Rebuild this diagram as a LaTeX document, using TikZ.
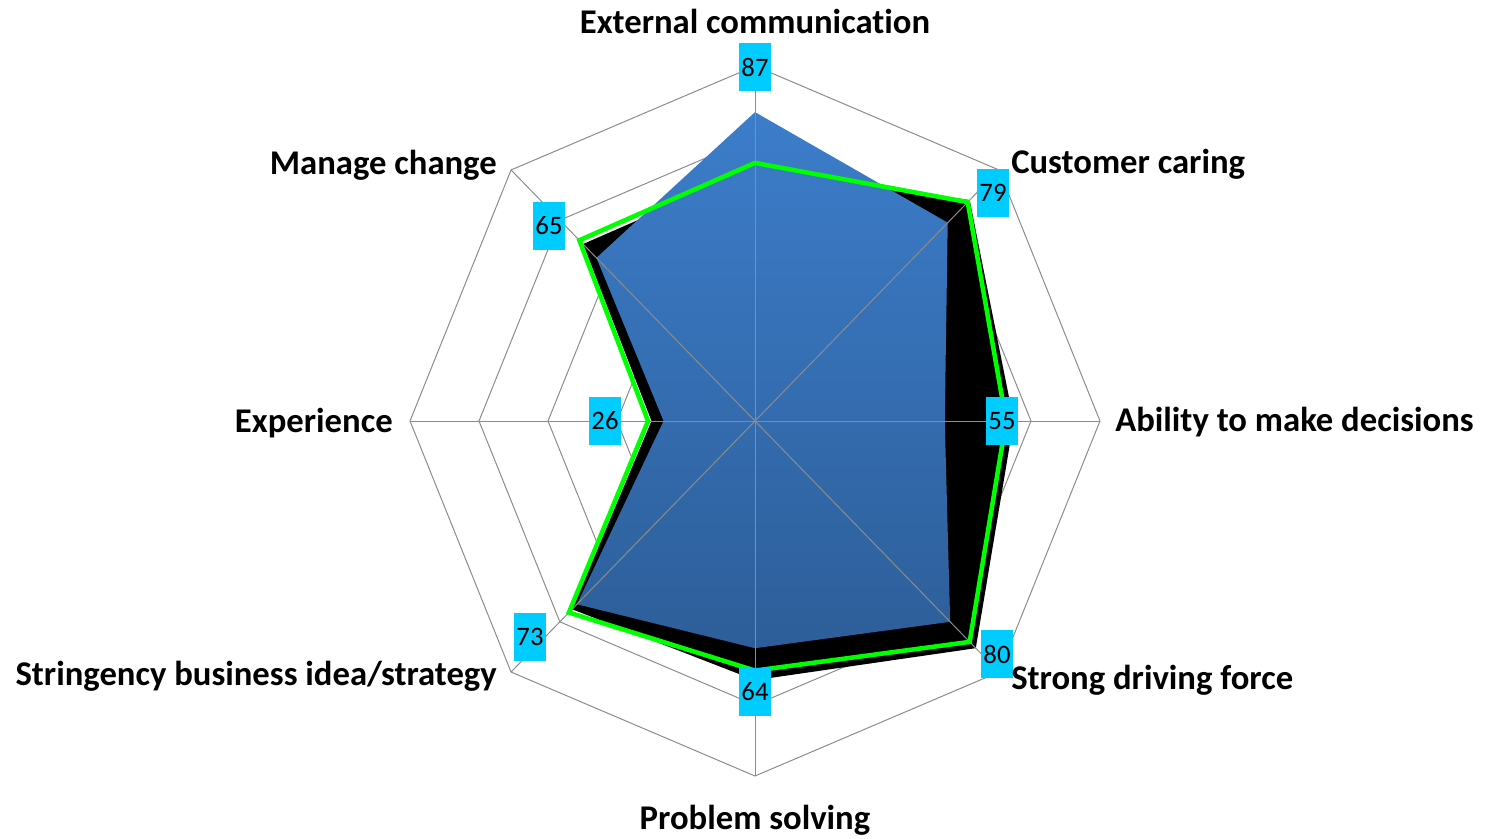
\documentclass[tikz,border=0pt]{standalone}
\usepackage{fontspec}
\setmainfont{Carlito}[Ligatures=NoCommon]
\usetikzlibrary{positioning}
\definecolor{gridgray}{HTML}{8C8C8C}
\definecolor{bluetop}{HTML}{3C7DCA}
\definecolor{bluebot}{HTML}{2D5E99}
\definecolor{boxcyan}{HTML}{00CCFF}
\definecolor{linegreen}{HTML}{00FF00}

\begin{document}
\begin{tikzpicture}[x=0.75pt, y=-0.75pt,
        webline/.style={draw=gridgray, line width=0.75pt},
        valbox/.style={fill=boxcyan, inner sep=0pt, minimum width=24pt, minimum height=36pt, font=\fontsize{20}{24}\selectfont},
        catlabel/.style={inner sep=0pt, font=\fontsize{26}{31}\selectfont\bfseries}]
    \useasboundingbox (0,0) rectangle (1486,839);
    \begin{scope}[shift={(755,421)}, x=2.5875pt, y=2.6625pt]
        \foreach \r in {20,40,60,80,100}
            \draw[webline] (90:\r) -- (45:\r) -- (0:\r) -- (-45:\r) -- (-90:\r) -- (-135:\r) -- (180:\r) -- (135:\r) -- cycle;
        \fill[black] (90:71) -- (45:88) -- (0:75) -- (-45:90.5) -- (-90:73) -- (-135:75) -- (180:30) -- (135:70.5) -- cycle;
        \shade[top color=bluetop, bottom color=bluebot] (90:87) -- (45:79) -- (0:55) -- (-45:80) -- (-90:64) -- (-135:73) -- (180:26.5) -- (135:65) -- cycle;
        \foreach \a in {0,45,...,315}
            \draw[webline] (0,0) -- (\a:100);
        \draw[linegreen, line width=3.4pt] (90:72.7) -- (45:87.2) -- (0:72.8) -- (-45:88) -- (-90:70.3) -- (-135:76.3) -- (180:31) -- (135:72) -- cycle;
    \end{scope}
    \node[valbox] (EC) at (755,67)  {87};
    \node[valbox] (CC) at (993,193) {79};
    \node[valbox] (AD) at (1002,421) {55};
    \node[valbox] (SD) at (997,654) {80};
    \node[valbox] (PS) at (755,692) {64};
    \node[valbox] (SB) at (530,637) {73};
    \node[valbox] (EX) at (605,421) {26};
    \node[valbox] (MC) at (549,226) {65};
    \node[catlabel, anchor=base]      (lEC) at (755,33)  {External communication};
    \node[catlabel, anchor=base west] (lCC) at (1011,173) {Customer caring};
    \node[catlabel, anchor=base west] (lAD) at (1115,431) {Ability to make decisions};
    \node[catlabel, anchor=base west] (lSD) at (1011,689) {Strong driving force};
    \node[catlabel, anchor=base]      (lPS) at (755,829) {Problem solving};
    \node[catlabel, anchor=base east] (lSB) at (497,685) {Stringency business idea/strategy};
    \node[catlabel, anchor=base east] (lEX) at (393,432) {Experience};
    \node[catlabel, anchor=base east] (lMC) at (497,174) {Manage change};
\end{tikzpicture}
\end{document}
